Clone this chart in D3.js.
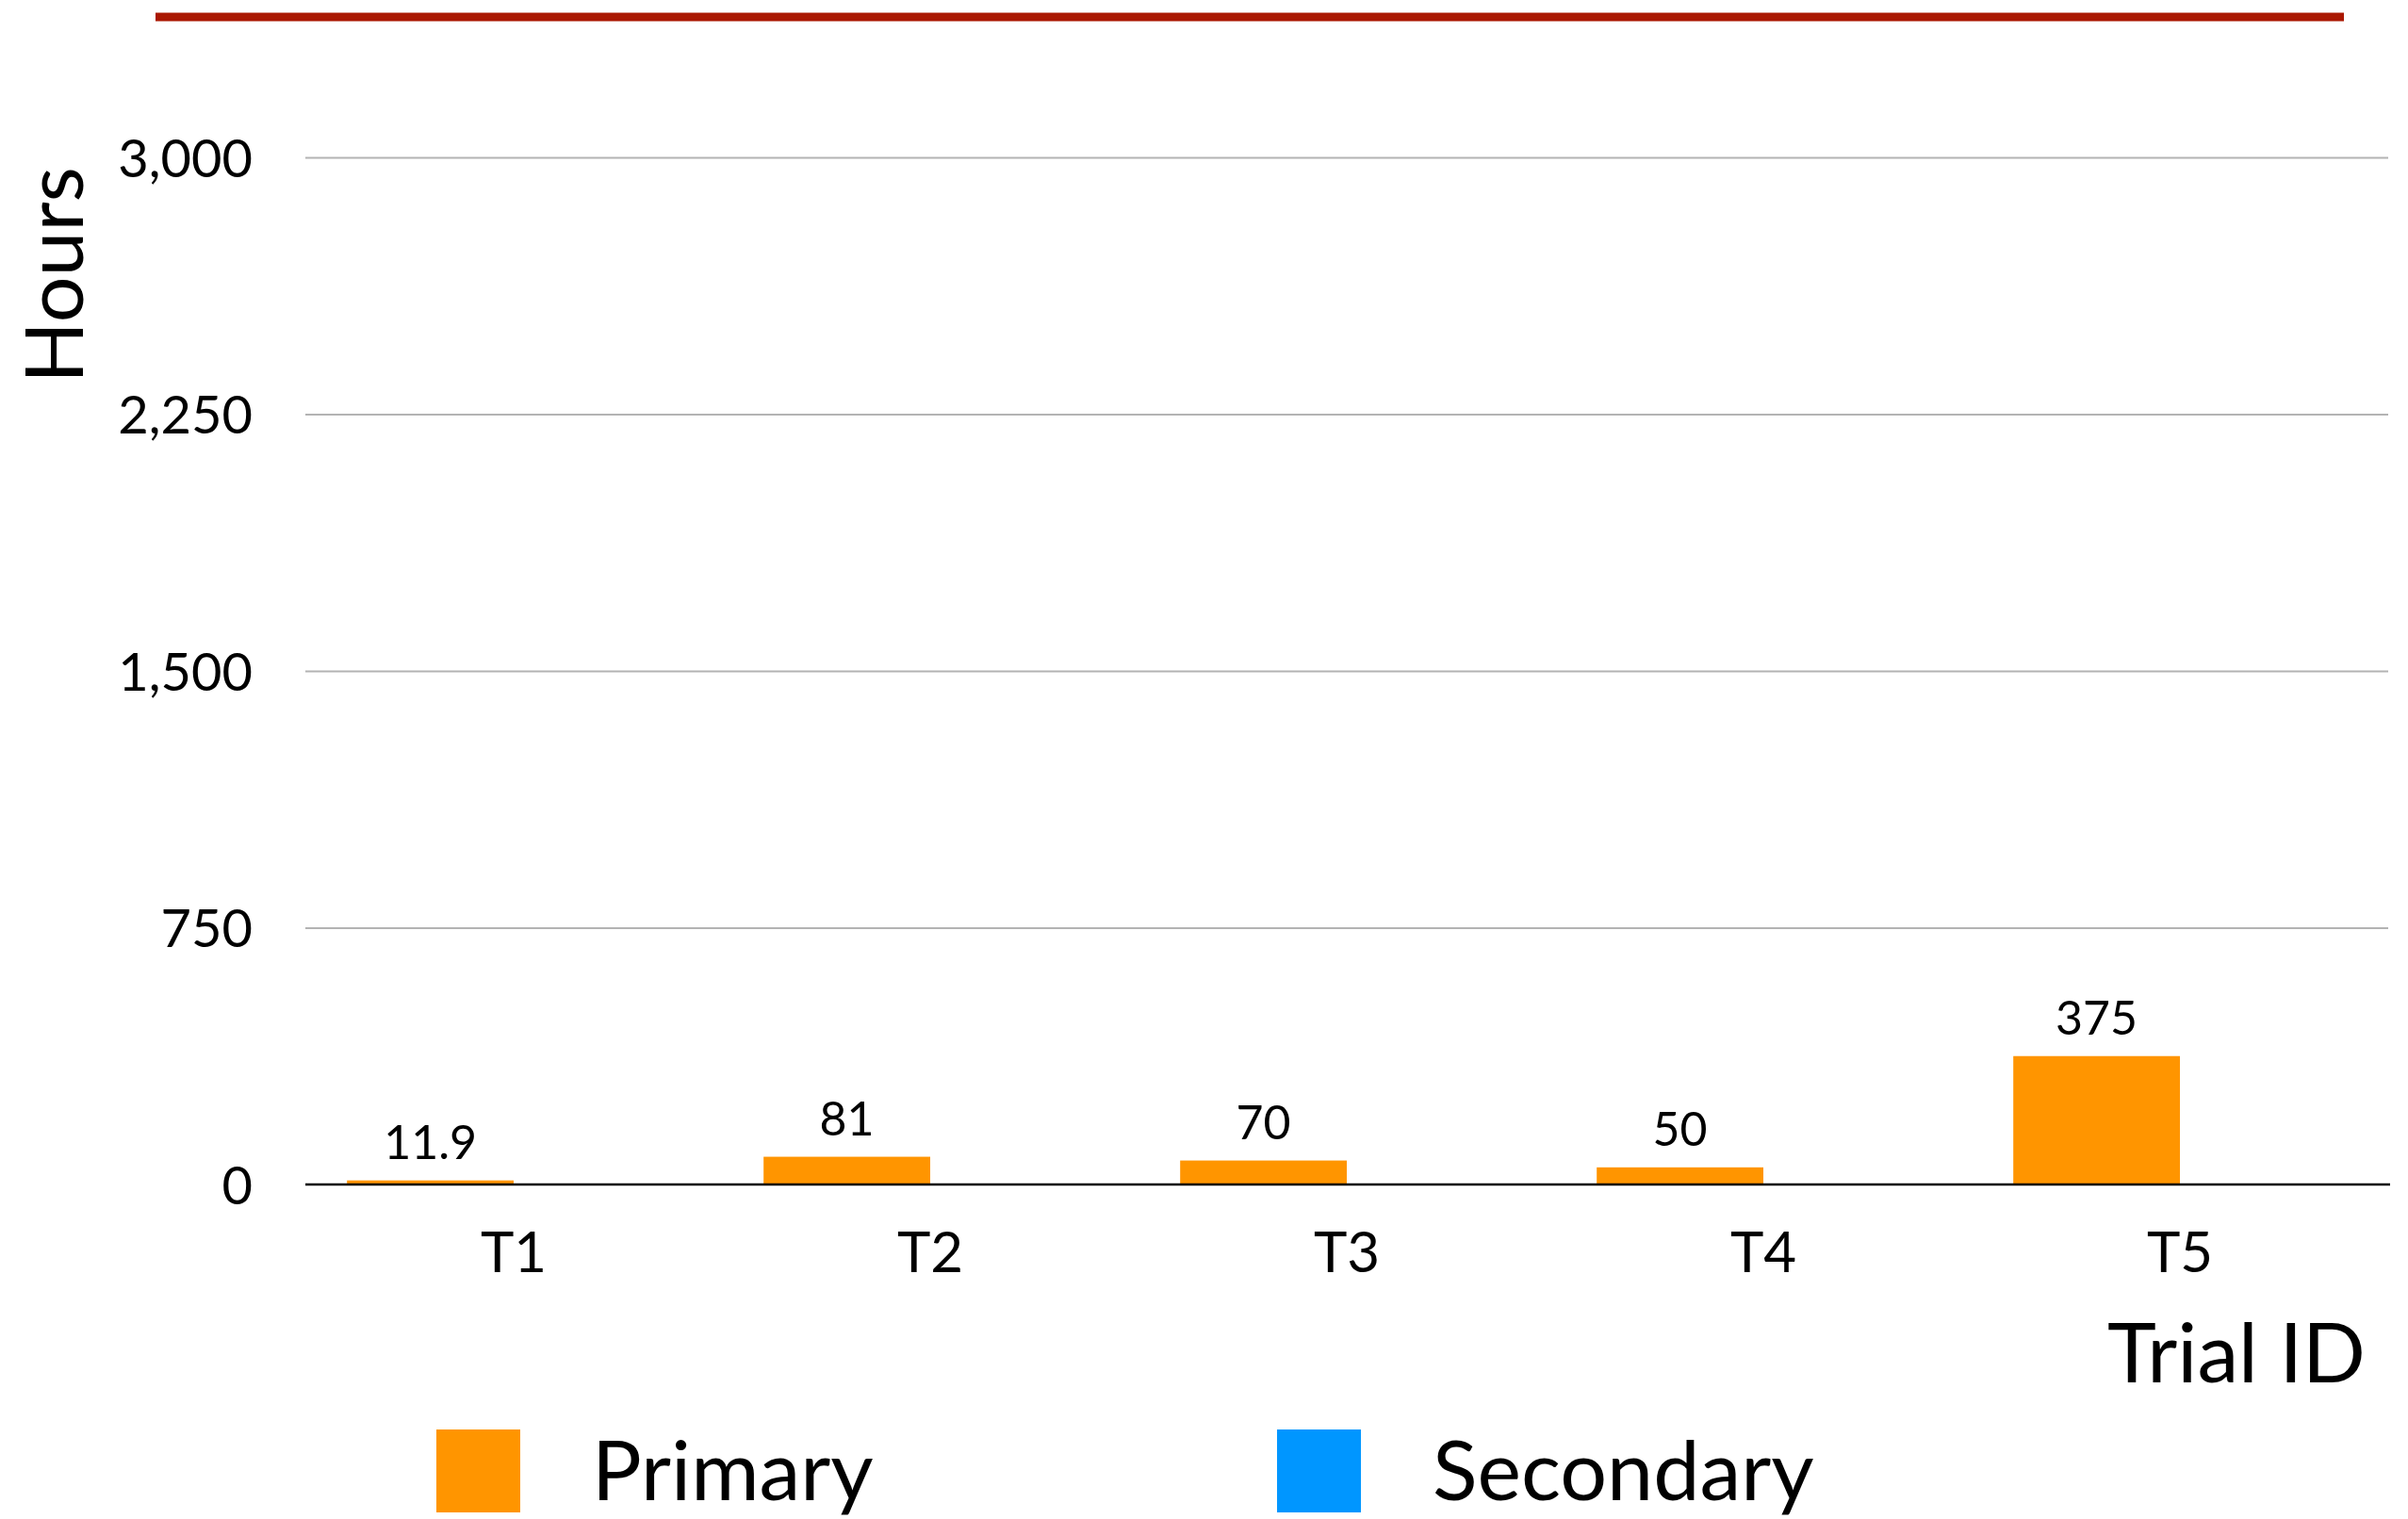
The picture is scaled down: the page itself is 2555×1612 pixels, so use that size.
<!DOCTYPE html>
<html>
<head>
<meta charset="utf-8">
<script src="https://cdn.jsdelivr.net/npm/d3@7"></script>
<style>
  html, body { margin: 0; padding: 0; background: #fff; }
  svg { display: block; }
  text { font-family: Lato, "Open Sans", sans-serif; fill: #000; }
</style>
</head>
<body>
<svg id="chart" width="2555" height="1612"></svg>
<script>
// Trial durations, in hours
const trials = ["T1", "T2", "T3", "T4", "T5"];
const seriesNames = ["Primary", "Secondary"];
const primaryHours = [11.9, 81, 70, 50, 375];
const secondaryHours = [null, null, null, null, null];
const yTicks = [0, 750, 1500, 2250, 3000];
const seriesColors = ["#ff9500", "#0096ff"];

const svg = d3.select("#chart");
const plot = { left: 324, right: 2534, top: 167, bottom: 1257 };

// header rule
svg.append("line")
  .attr("x1", 165).attr("x2", 2487)
  .attr("y1", 18).attr("y2", 18)
  .attr("stroke", "#aa1700").attr("stroke-width", 9);

const x = d3.scaleBand().domain(trials).range([plot.left, plot.right]).padding(0);
const xs = d3.scaleBand().domain(seriesNames).range([0, x.bandwidth()])
  .paddingInner(0).paddingOuter(0.25);
const y = d3.scaleLinear().domain([0, 3000]).range([plot.bottom, plot.top]);
const color = d3.scaleOrdinal().domain(seriesNames).range(seriesColors);

// horizontal grid + y tick labels
const yAxis = svg.append("g")
  .attr("transform", `translate(${plot.left},0)`)
  .call(d3.axisLeft(y).tickValues(yTicks).tickFormat(d3.format(","))
    .tickSize(-(plot.right - plot.left)).tickPadding(56));
yAxis.select(".domain").remove();
yAxis.selectAll(".tick line")
  .attr("stroke", "#b3b3b3").attr("stroke-width", 2)
  .filter(d => d === 0).remove();
yAxis.selectAll(".tick text")
  .attr("font-size", 56).attr("dy", "0.36em")
  .style("font-family", "Lato, sans-serif").attr("fill", "#000");

// bars
const rows = [];
trials.forEach((t, i) => {
  [primaryHours, secondaryHours].forEach((arr, s) => {
    if (arr[i] != null) rows.push({ trial: t, series: seriesNames[s], value: arr[i] });
  });
});

svg.append("g").selectAll("rect").data(rows).join("rect")
  .attr("x", d => x(d.trial) + xs(d.series))
  .attr("y", d => y(d.value))
  .attr("width", xs.bandwidth())
  .attr("height", d => y(0) - y(d.value))
  .attr("fill", d => color(d.series));

// value labels
svg.append("g").selectAll("text").data(rows).join("text")
  .attr("x", d => x(d.trial) + xs(d.series) + xs.bandwidth() / 2)
  .attr("y", d => y(d.value) - 23)
  .attr("text-anchor", "middle")
  .attr("font-size", 50)
  .text(d => d3.format(",")(d.value));

// baseline
svg.append("line")
  .attr("x1", plot.left).attr("x2", plot.right + 2)
  .attr("y1", y(0)).attr("y2", y(0))
  .attr("stroke", "#000").attr("stroke-width", 2.5);

// x axis category labels
const xAxis = svg.append("g")
  .attr("transform", `translate(0,${plot.bottom})`)
  .call(d3.axisBottom(x).tickSize(0).tickPadding(50));
xAxis.select(".domain").remove();
xAxis.selectAll(".tick text")
  .attr("font-size", 60)
  .style("font-family", "Lato, sans-serif").attr("fill", "#000")
  .attr("dy", "0.72em");

// axis titles
svg.append("text")
  .attr("transform", "translate(88,292) rotate(-90)")
  .attr("text-anchor", "middle")
  .attr("font-size", 86)
  .text("Hours");

svg.append("text")
  .attr("x", 2510).attr("y", 1467)
  .attr("text-anchor", "end")
  .attr("font-size", 88)
  .text("Trial ID");

// legend
const legendX = [463, 1355];
const legend = svg.append("g").selectAll("g").data(seriesNames).join("g")
  .attr("transform", (d, i) => `translate(${legendX[i]},1517)`);
legend.append("rect")
  .attr("width", 89).attr("height", 88)
  .attr("fill", d => color(d));
legend.append("text")
  .attr("x", 165).attr("y", 75)
  .attr("font-size", 88)
  .text(d => d);
</script>
</body>
</html>
